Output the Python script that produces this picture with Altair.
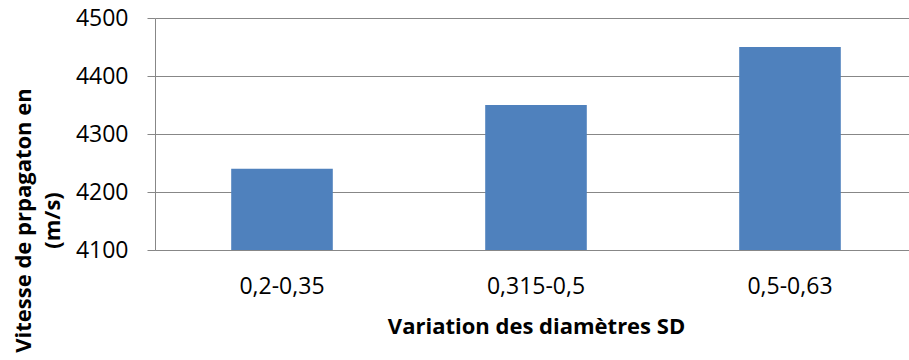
import altair as alt
import pandas as pd

categories = ["0,2-0,35", "0,315-0,5", "0,5-0,63"]
values = [4240, 4350, 4450]
y_ticks = [4100, 4200, 4300, 4400, 4500]
baseline = 4100

df = pd.DataFrame({"cat": categories, "val": values})

FONT = "Open Sans"
GRID = "#878787"

chart = alt.Chart(df).mark_bar(color="#4F81BD").encode(
    x=alt.X(
        "cat:N",
        sort=categories,
        scale=alt.Scale(range=[0, 762], paddingInner=0.6, paddingOuter=0.3),
        axis=alt.Axis(
            title="Variation des diamètres SD",
            titleFont=FONT,
            titleFontSize=22,
            titleFontWeight="bold",
            titleColor="#000000",
            titleX=381,
            titleY=83,
            titleAlign="center",
            titleBaseline="alphabetic",
            labelFont=FONT,
            labelFontSize=23,
            labelColor="#000000",
            labelAngle=0,
            labelBaseline="alphabetic",
            labelPadding=43,
            ticks=False,
            tickSize=0,
            domainColor=GRID,
            domainWidth=1,
            grid=False,
        ),
    ),
    y=alt.Y(
        "val:Q",
        scale=alt.Scale(domain=[4100, 4500], nice=False, zero=False),
        axis=alt.Axis(
            values=y_ticks,
            format="d",
            title=["Vitesse de prpagaton en", "(m/s)"],
            titleFont=FONT,
            titleFontSize=22,
            titleFontWeight="bold",
            titleColor="#000000",
            titleAngle=270,
            titleAlign="center",
            titleBaseline="alphabetic",
            titleLineHeight=29,
            titleX=-125,
            titleY=202,
            labelFont=FONT,
            labelFontSize=23,
            labelColor="#000000",
            labelPadding=19,
            tickSize=8,
            tickColor=GRID,
            domainColor=GRID,
            domainWidth=1,
            grid=True,
            gridColor=GRID,
            gridWidth=1,
        ),
    ),
    y2=alt.datum(baseline),
).properties(
    width=754,
    height=232,
    autosize=alt.AutoSizeParams(type="none"),
    padding={"left": 155, "top": 18, "right": 0, "bottom": 110},
    background="#ffffff",
).configure_view(strokeWidth=0)

chart.save("out.html", embed_options={"renderer": "svg", "actions": False})
